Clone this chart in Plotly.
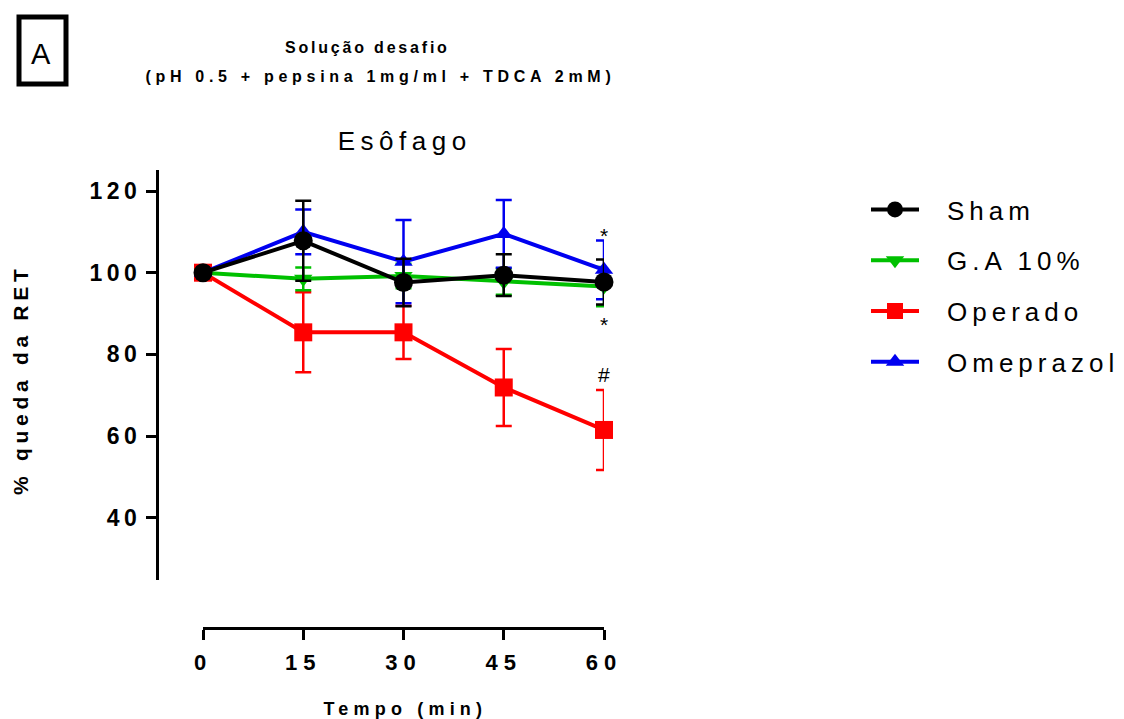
import plotly.graph_objects as go

# ---- data ----
tempo = [0, 15, 30, 45, 60]
sham = [100, 107.8, 97.6, 99.4, 97.7]
sham_err = [0, 9.8, 5.8, 5.1, 5.5]
ga = [100, 98.5, 99.2, 97.8, 96.6]
ga_err = [0, 2.8, 3.0, 3.2, 4.8]
operado = [100, 85.4, 85.4, 71.9, 61.5]
operado_err = [0, 9.8, 6.5, 9.4, 9.8]
omeprazol = [100, 110.0, 102.7, 109.5, 100.7]
omeprazol_err = [0, 5.5, 10.2, 8.3, 7.2]
yticks = [40, 60, 80, 100, 120]
marks_x = [60, 60, 60]
marks_y = [109.2, 87.2, 75.2]
marks_txt = ["*", "*", "#"]

W, H = 1124, 719
FONT = "Liberation Sans, Arial, sans-serif"

def px(v):
    return v / W

def py(v):
    return 1 - v / H

fig = go.Figure()

specs = [
    ("Operado", operado, operado_err, "#FF0000", "square", 18, 2),
    ("G.A 10%", ga, ga_err, "#00C000", "triangle-down", 16, 1),
    ("Omeprazol", omeprazol, omeprazol_err, "#0000F0", "triangle-up", 16, 3),
    ("Sham", sham, sham_err, "#000000", "circle", 19, 0),
]
for name, vals, errs, col, sym, size, rank in specs:
    fig.add_trace(go.Scatter(
        x=tempo, y=vals, name=name, mode="lines+markers",
        line=dict(color=col, width=4),
        marker=dict(color=col, symbol=sym, size=size),
        error_y=dict(type="data", array=errs, visible=True, color=col,
                     thickness=2.5, width=8),
        cliponaxis=False, legendrank=rank, legendgroup=name,
    ))

for xv, yv, t in zip(marks_x, marks_y, marks_txt):
    fig.add_annotation(x=xv, y=yv, text=t, showarrow=False,
                       font=dict(size=21, color="black", family=FONT))

def label(x, y, text, size, bold=False, angle=0):
    fig.add_annotation(xref="paper", yref="paper", x=px(x), y=py(y),
                       xanchor="center", yanchor="middle", textangle=angle,
                       text=text, showarrow=False,
                       font=dict(size=size, color="black", family=FONT,
                                 weight="bold" if bold else "normal"))

label(367, 47.5, "Solução desafio", 16, bold=True)
label(380, 76.5, "(pH 0.5 + pepsina 1mg/ml + TDCA 2mM)", 16, bold=True)
label(404, 141, "Esôfago", 26)
label(41, 54, "A", 29)
label(405, 709, "Tempo (min)", 18, bold=True)
label(20, 380, "% queda da RET", 21, bold=True, angle=-90)

fig.add_shape(type="rect", xref="paper", yref="paper",
              x0=px(19), x1=px(66), y0=py(17), y1=py(84),
              line=dict(color="black", width=5))

fig.update_layout(
    width=W, height=H, template="none",
    margin=dict(l=0, r=0, t=0, b=0),
    paper_bgcolor="white", plot_bgcolor="white",
    font=dict(family=FONT, color="black"),
    showlegend=True,
    legend=dict(x=px(866), y=py(186), xanchor="left", yanchor="top",
                font=dict(size=26, family=FONT, color="black"),
                itemwidth=48, tracegroupgap=14, bgcolor="rgba(0,0,0,0)",
                traceorder="grouped"),
    xaxis=dict(domain=[px(203), px(604)], range=[0, 60],
               anchor="free", position=py(628),
               showline=True, linecolor="black", linewidth=3,
               ticks="outside", ticklen=10, tickwidth=3, tickcolor="black",
               tickvals=tempo, ticktext=[str(t) for t in tempo],
               tickfont=dict(size=22, family=FONT, color="black", weight="bold"),
               ticklabelstandoff=4,
               showgrid=False, zeroline=False, automargin=False),
    yaxis=dict(domain=[py(580), py(170)], range=[24.77, 125.14],
               anchor="free", position=px(157),
               showline=True, linecolor="black", linewidth=3,
               ticks="outside", ticklen=10, tickwidth=3, tickcolor="black",
               tickvals=yticks, ticktext=[str(t) for t in yticks],
               tickfont=dict(size=23, family=FONT, color="black", weight="bold"),
               showgrid=False, zeroline=False, automargin=False),
)

post = """
(function(){
 function sp(sel, v){document.querySelectorAll(sel).forEach(function(e){e.style.letterSpacing=v;});}
 sp('.xtick text','6px'); sp('.ytick text','4.5px');
 sp('.legendtext','5px');
 var m = {'Solução desafio':'2.8px', '(pH 0.5 + pepsina 1mg/ml + TDCA 2mM)':'4.7px',
          'Esôfago':'5.5px', 'Tempo (min)':'5.2px', '% queda da RET':'4.7px'};
 document.querySelectorAll('.annotation-text').forEach(function(e){
   var v = m[e.textContent]; if(v){ e.style.letterSpacing = v; }
 });
 document.querySelectorAll('.legend .legendtext').forEach(function(e){
   e.setAttribute('x', parseFloat(e.getAttribute('x')) + 23);
 });
 document.querySelectorAll('.legend, .legend .scrollbox').forEach(function(e){
   e.removeAttribute('clip-path');
 });
})();
"""
fig.write_html("out.html", post_script=post)
